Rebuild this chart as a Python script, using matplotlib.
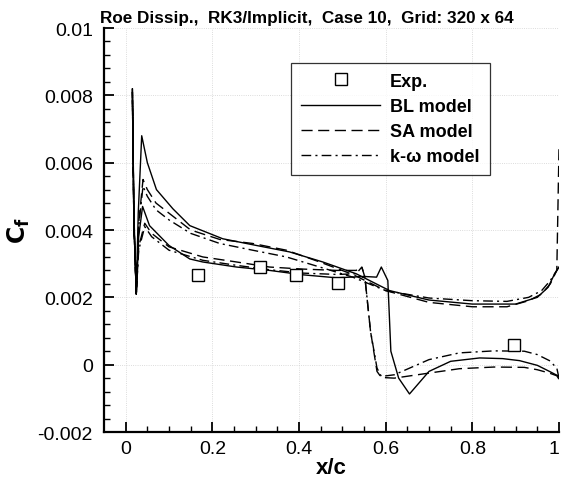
import matplotlib
matplotlib.use("Agg")
import matplotlib.pyplot as plt
import numpy as np

plt.rcParams['font.family'] = ['Liberation Sans', 'DejaVu Sans']

# datos experimentales
exp_x = [0.166, 0.311, 0.394, 0.49, 0.896]
exp_y = [0.00267, 0.00289, 0.00265, 0.00243, 0.00059]

# BL - superficie con choque
bl_up_x = [0.0155, 0.019, 0.0245, 0.03, 0.039, 0.055, 0.10, 0.148, 0.178, 0.256, 0.332, 0.408,
           0.487, 0.55, 0.579, 0.59, 0.605, 0.612, 0.63, 0.655, 0.70, 0.75, 0.817, 0.87, 0.909,
           0.95, 0.978, 0.993, 1.0]
bl_up_y = [0.0082, 0.0045, 0.0021, 0.0038, 0.0047, 0.00413, 0.00354, 0.00314, 0.00305, 0.0029,
           0.0028, 0.00267, 0.00258, 0.00262, 0.0026, 0.0029, 0.0025, 0.0004, -0.0004, -0.00087,
           -0.0002, 0.0001, 0.0002, 0.00018, 0.00012, -0.00002, -0.0002, -0.0003, -0.00034]
# BL - otra superficie
bl_lo_x = [0.0155, 0.019, 0.0245, 0.029, 0.037, 0.05, 0.071, 0.109, 0.148, 0.224, 0.302, 0.378,
           0.455, 0.532, 0.609, 0.7, 0.8, 0.9, 0.95, 0.975, 0.99, 1.0]
bl_lo_y = [0.0082, 0.0042, 0.0021, 0.0045, 0.0068, 0.0060, 0.0052, 0.00463, 0.00413, 0.00374,
           0.00354, 0.00335, 0.00305, 0.0027, 0.0022, 0.00192, 0.0018, 0.0018, 0.002, 0.0023,
           0.0027, 0.0029]

# SA y k-omega
tu_x = [0.0155, 0.019, 0.0245, 0.03, 0.044, 0.06, 0.1, 0.178, 0.256, 0.332, 0.408, 0.487, 0.532,
        0.545, 0.552, 0.565, 0.58, 0.59, 0.62, 0.7, 0.77, 0.85, 0.92, 0.95, 0.978, 0.995, 1.0]
sa_up_y = [0.0080, 0.0042, 0.0021, 0.0035, 0.0042, 0.0039, 0.0035, 0.0032, 0.00305, 0.0029,
           0.00284, 0.0028, 0.0028, 0.0029, 0.0026, 0.0010, -0.0002, -0.00038, -0.0004, -0.00025,
           -0.00012, -0.00007, -0.00008, -0.00015, -0.00025, -0.00033, -0.00043]
kw_up_y = [0.0081, 0.0042, 0.0021, 0.0034, 0.0041, 0.0038, 0.0034, 0.0031, 0.00295, 0.00282,
           0.00272, 0.00268, 0.0027, 0.0029, 0.0026, 0.0010, -0.0001, -0.00035, -0.0003, 0.00015,
           0.00035, 0.00041, 0.0004, 0.0003, 0.00012, -0.0001, -0.0004]

tl_x = [0.0155, 0.019, 0.0245, 0.03, 0.04, 0.05, 0.07, 0.1, 0.15, 0.217, 0.293, 0.371, 0.448,
        0.524, 0.6, 0.7, 0.8, 0.88, 0.93, 0.96, 0.98, 0.995, 1.0]
sa_lo_y = [0.0080, 0.0042, 0.0021, 0.0042, 0.0055, 0.0052, 0.0048, 0.0045, 0.0040, 0.00372,
           0.0036, 0.0034, 0.00305, 0.00268, 0.0022, 0.00185, 0.00172, 0.00172, 0.0019, 0.0021,
           0.0024, 0.0028, 0.0064]
kw_lo_y = [0.0081, 0.0042, 0.0021, 0.0041, 0.0053, 0.0050, 0.0046, 0.0043, 0.0039, 0.0036,
           0.0034, 0.0032, 0.0029, 0.0026, 0.0022, 0.00198, 0.0019, 0.00188, 0.002, 0.0022,
           0.0025, 0.0028, 0.0029]


def vuelta(xu, yu, xl, yl):
    # une las dos superficies en una sola linea (borde de salida -> ataque -> salida)
    return np.concatenate([xu[::-1], xl]), np.concatenate([yu[::-1], yl])


fig = plt.figure(figsize=(5.61, 4.85), dpi=100)
ax = fig.add_axes([0.1854, 0.1072, 0.811, 0.8330])

x, y = vuelta(np.array(bl_up_x), np.array(bl_up_y), np.array(bl_lo_x), np.array(bl_lo_y))
ax.plot(x, y, color='black', lw=1.0, ls='-', label='BL model')
x, y = vuelta(np.array(tu_x), np.array(sa_up_y), np.array(tl_x), np.array(sa_lo_y))
ax.plot(x, y, color='black', lw=1.0, ls=(0, (8, 4)), label='SA model')
x, y = vuelta(np.array(tu_x), np.array(kw_up_y), np.array(tl_x), np.array(kw_lo_y))
ax.plot(x, y, color='black', lw=1.0, ls=(0, (7, 3, 1.5, 3)), label='k-\u03c9 model')
ax.plot(exp_x, exp_y, ls='none', marker='s', ms=9, mfc='white', mec='black', mew=1.0,
        label='Exp.', zorder=5)

ax.set_xlim(-0.05, 1.0)
ax.set_ylim(-0.002, 0.01)
ax.set_xticks([0, 0.2, 0.4, 0.6, 0.8, 1.0])
ax.set_xticklabels(['0', '0.2', '0.4', '0.6', '0.8', '1'])
ax.get_xticklabels()[-1].set_horizontalalignment('right')
ax.set_xticks(np.arange(0.05, 1.0, 0.05), minor=True)
ax.set_yticks([-0.002, 0, 0.002, 0.004, 0.006, 0.008, 0.01])
ax.set_yticklabels(['-0.002', '0', '0.002', '0.004', '0.006', '0.008', '0.01'])
ax.set_yticks(np.arange(-0.002, 0.0101, 0.0004), minor=True)

ax.spines['top'].set_visible(False)
ax.spines['right'].set_visible(False)
ax.spines['left'].set_linewidth(1.6)
ax.spines['bottom'].set_linewidth(1.6)
ax.tick_params(which='major', direction='in', length=7.5, width=1.3, labelsize=14, pad=6)
ax.tick_params(which='minor', direction='in', length=4.5, width=1.0)
ax.tick_params(axis='y', which='major', pad=8)
ax.grid(True, which='major', color='#d0d0d0', ls=':', lw=0.6)

ax.set_xlabel('x/c', fontsize=16, fontweight='bold', labelpad=0)
ax.set_ylabel(r'$\mathbf{C_f}$', fontsize=17, labelpad=4)
ax.set_title('Roe Dissip.,  RK3/Implicit,  Case 10,  Grid: 320 x 64', fontsize=12.3,
             fontweight='bold', pad=4, x=0.445)

h, l = ax.get_legend_handles_labels()
order = [3, 0, 1, 2]
leg = ax.legend([h[i] for i in order], [l[i] for i in order], loc='upper left',
                bbox_to_anchor=(0.391, 0.936), frameon=True, fancybox=False, edgecolor='black',
                handlelength=4.4, handletextpad=0.55, borderpad=0.55, labelspacing=0.45,
                prop={'weight': 'bold', 'size': 13})
leg.get_frame().set_linewidth(0.9)

fig.savefig('out.png', dpi=100)
